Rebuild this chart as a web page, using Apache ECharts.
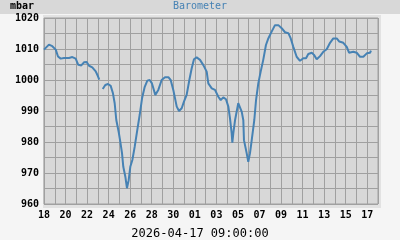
<!DOCTYPE html>
<html>
<head>
<meta charset="utf-8">
<script src="https://cdn.jsdelivr.net/npm/echarts@6/dist/echarts.min.js"></script>
<style>
html,body{margin:0;padding:0;background:#f5f5f5;}
#chart{width:400px;height:240px;}
</style>
</head>
<body>
<div id="chart"></div>
<script>
// Days since 2026-03-18 00:00
const days = [0.00,0.46,0.77,1.09,1.30,1.55,1.86,2.01,2.32,2.63,2.94,3.18,3.46,3.71,3.96,4.18,4.48,4.80,5.01,5.13,
  5.30,
  5.45,5.69,5.94,6.19,6.40,6.56,6.71,6.93,7.08,7.24,7.36,7.55,7.70,7.86,8.01,8.20,8.42,8.66,8.88,9.10,9.35,9.59,9.81,
  10.02,10.33,10.61,10.92,11.23,11.54,11.76,12.00,12.32,12.53,12.78,12.99,13.24,13.49,13.71,13.92,14.17,14.48,14.79,
  15.10,15.25,15.57,15.87,16.18,16.40,16.64,16.89,17.11,17.26,17.42,17.48,17.57,17.73,18.03,18.35,18.50,18.56,18.81,
  18.96,19.12,19.28,19.52,19.68,19.89,20.11,20.35,20.60,20.82,21.13,21.44,21.75,22.06,22.37,22.68,22.90,23.14,23.45,
  23.76,24.07,24.32,24.53,24.85,25.06,25.31,25.62,25.92,26.24,26.55,26.85,27.17,27.41,27.78,28.10,28.31,28.71,29.02,
  29.33,29.64,29.96,30.26,30.35];
const barometer = [1009.8,1011.4,1010.9,1009.8,1007.6,1006.9,1007.1,1006.5,1007.1,1007.4,1006.9,1004.9,1004.7,1005.7,1005.8,1004.6,1004.1,1002.8,1001.2,1000.1,
  null,
  997.1,998.4,998.7,998.1,995.7,992.5,987.1,983.3,980.1,976.4,972.0,968.8,965.1,967.7,972.0,974.2,978.5,983.9,988.7,994.1,997.8,999.8,1000.0,
  998.9,995.2,996.8,1000.0,1000.9,1000.9,1000.0,996.8,991.4,990.0,990.9,993.0,995.2,1000.0,1003.8,1006.7,1007.3,1006.5,1004.8,
  1002.7,998.9,997.3,996.8,994.6,993.5,994.4,993.8,991.4,987.7,982.8,979.8,982.8,987.0,992.5,989.8,987.0,980.6,976.4,
  973.6,976.4,980.6,987.1,993.5,998.9,1002.7,1006.5,1011.3,1013.4,1015.6,1017.7,1017.7,1016.7,1015.4,1015.1,1013.4,1010.7,1007.5,
  1006.2,1007.0,1007.0,1008.4,1008.8,1008.1,1006.7,1007.7,1009.1,1009.9,1012.0,1013.4,1013.4,1012.4,1012.0,1010.7,1008.8,1009.1,1008.8,
  1007.5,1007.5,1008.6,1008.8,1009.5];
const xTickLabels = ["18","20","22","24","26","28","30","01","03","05","07","09","11","13","15","17"];
const yTicks = [960,970,980,990,1000,1010,1020];
const unitLabel = "mbar";
const titleText = "Barometer";
const timeLabel = "2026-04-17 09:00:00";

const chart = echarts.init(document.getElementById('chart'), null, {renderer:'canvas'});
const seriesData = days.map((d,i)=>[d, barometer[i]===null ? '-' : barometer[i]]);
const mono = "'DejaVu Sans Mono', monospace";

chart.setOption({
  backgroundColor:'#f5f5f5',
  animation:false,
  graphic:[
    {type:'rect', shape:{x:0,y:0,width:400,height:14}, style:{fill:'#d8d8d8'}, z:-10},
    {type:'rect', shape:{x:43,y:15,width:338,height:193}, style:{fill:'#e2e2e2'}, z:-10},
    {type:'text', left:10, top:1, style:{text:unitLabel, font:'bold 10px '+mono, fill:'#000'}},
    {type:'text', x:200, y:1, style:{text:titleText, font:'10px '+mono, fill:'#4682b4', textAlign:'center'}},
    {type:'text', x:200, y:228, style:{text:timeLabel, font:'12px '+mono, fill:'#000', textAlign:'center'}}
  ],
  grid:{left:44, top:18, width:334, height:186, show:true, backgroundColor:'#d8d8d8', borderColor:'#a0a0a0', borderWidth:1},
  xAxis:{
    type:'value', min:0, max:31, interval:1,
    axisLine:{show:false}, axisTick:{show:false},
    splitLine:{show:true, lineStyle:{color:'#a0a0a0', width:1}},
    axisLabel:{margin:6, font:'bold 10px '+mono, fontFamily:'DejaVu Sans Mono', fontWeight:'bold', fontSize:10, color:'#000',
      formatter:(v)=> (v%2===0 && xTickLabels[v/2]!==undefined) ? xTickLabels[v/2] : ''}
  },
  yAxis:{
    type:'value', min:960, max:1020, interval:5,
    axisLine:{show:false}, axisTick:{show:false},
    splitLine:{show:true, lineStyle:{color:'#a0a0a0', width:1}},
    axisLabel:{margin:5, fontFamily:'DejaVu Sans Mono', fontWeight:'bold', fontSize:10, color:'#000',
      formatter:(v)=> yTicks.indexOf(v)>=0 ? String(v) : ''}
  },
  series:[{
    type:'line', data:seriesData, showSymbol:false, connectNulls:false,
    lineStyle:{color:'#4682b4', width:2}, itemStyle:{color:'#4682b4'}
  }]
});
</script>
</body>
</html>
